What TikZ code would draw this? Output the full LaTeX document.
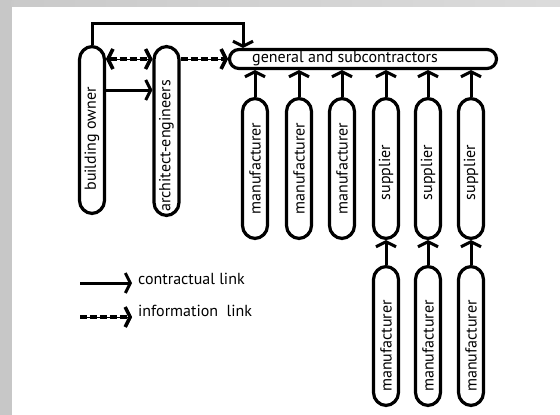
\documentclass[tikz,border=0pt]{standalone}
\usepackage{fontspec}
\setmainfont{PT Sans}
\usetikzlibrary{arrows.meta}

\begin{document}
\begin{tikzpicture}[x=1pt, y=-1pt, every node/.style={font=\fontsize{16}{18}\selectfont},
    >={Straight Barb[length=5pt,width=20pt]}]
    % styles
    \tikzstyle{pill} = [rectangle, draw=black, line width=3.2pt, fill=white, inner sep=0pt, rounded corners=13pt, minimum width=25pt]
    \tikzstyle{vtext} = [rotate=90, inner sep=0pt]
    \tikzstyle{contract} = [line width=3pt, ->]
    \tikzstyle{info} = [line width=3.4pt, ->, dash pattern=on 7pt off 3pt, postaction={draw, solid, line width=0.8pt}]

    % frame
    \useasboundingbox (0,0) rectangle (560,415);
    \fill[white] (0,0) rectangle (560,415);
    \fill[black!22] (0,0) rectangle (11.5,415);
    \shade[left color=black!21, right color=black!14] (11.5,0) rectangle (560,6.5);

    % owner side
    \node[pill, minimum height=167pt] (bo) at (92,130) {};
    \node[vtext] (bo-txt) at ([yshift=-9pt]bo.center) {building owner};
    \node[pill, minimum height=169pt] (ae) at (166.5,131) {};
    \node[vtext] (ae-txt) at ([yshift=-15pt]ae.center) {architect-engineers};
    \node[pill, minimum width=267pt, minimum height=19pt, rounded corners=9.5pt] (gc) at (363,59) {};
    \node (gc-txt) at ([xshift=-18pt]gc.center) {general and subcontractors};

    % first row
    \node[pill, minimum height=140pt] (m1) at (255,168.5) {};
    \node[vtext] (m1-txt) at (m1.center) {manufacturer};
    \node[pill, minimum height=140pt] (m2) at (299,168.5) {};
    \node[vtext] (m2-txt) at (m2.center) {manufacturer};
    \node[pill, minimum height=140pt] (m3) at (342,168.5) {};
    \node[vtext] (m3-txt) at (m3.center) {manufacturer};
    \node[pill, minimum height=140pt] (s1) at (386,168.5) {};
    \node[vtext] (s1-txt) at ([yshift=-4pt]s1.center) {supplier};
    \node[pill, minimum height=140pt] (s2) at (428,168.5) {};
    \node[vtext] (s2-txt) at ([yshift=-4pt]s2.center) {supplier};
    \node[pill, minimum height=140pt] (s3) at (471,168.5) {};
    \node[vtext] (s3-txt) at ([yshift=-4pt]s3.center) {supplier};

    % second row
    \node[pill, minimum height=139pt] (m4) at (386,336) {};
    \node[vtext] (m4-txt) at ([yshift=-10pt]m4.center) {manufacturer};
    \node[pill, minimum height=139pt] (m5) at (428,336) {};
    \node[vtext] (m5-txt) at ([yshift=-10pt]m5.center) {manufacturer};
    \node[pill, minimum height=139pt] (m6) at (471,336) {};
    \node[vtext] (m6-txt) at ([yshift=-10pt]m6.center) {manufacturer};

    % links
    \coordinate (top) at (243,23);
    \draw[contract] (bo.north) |- (top) -- (top |- gc.north);
    \draw[info, <->] (bo.east |- gc.center) -- (ae.west |- gc.center);
    \draw[info] (ae.east |- gc.center) -- (gc.west);
    \draw[contract] ([yshift=40pt]bo.east) -- ([yshift=40pt]bo.east -| ae.west);
    \draw[contract] (m1) -- (m1 |- gc.south);
    \draw[contract] (m2) -- (m2 |- gc.south);
    \draw[contract] (m3) -- (m3 |- gc.south);
    \draw[contract] (s1) -- (s1 |- gc.south);
    \draw[contract] (s2) -- (s2 |- gc.south);
    \draw[contract] (s3) -- (s3 |- gc.south);
    \draw[contract] (m4) -- (s1);
    \draw[contract] (m5) -- (s2);
    \draw[contract] (m6) -- (s3);

    % legend
    \coordinate (k1) at (80,283);
    \coordinate (k2) at (132,283);
    \coordinate (k3) at (80,317);
    \coordinate (k4) at (132,317);
    \draw[contract] (k1) -- (k2);
    \draw[info] (k3) -- (k4);
    \node[anchor=west, inner sep=0pt] (k-txt1) at (138,279) {contractual link};
    \node[anchor=west, inner sep=0pt] (k-txt2) at (138,311) {information\ \ link};
\end{tikzpicture}
\end{document}
